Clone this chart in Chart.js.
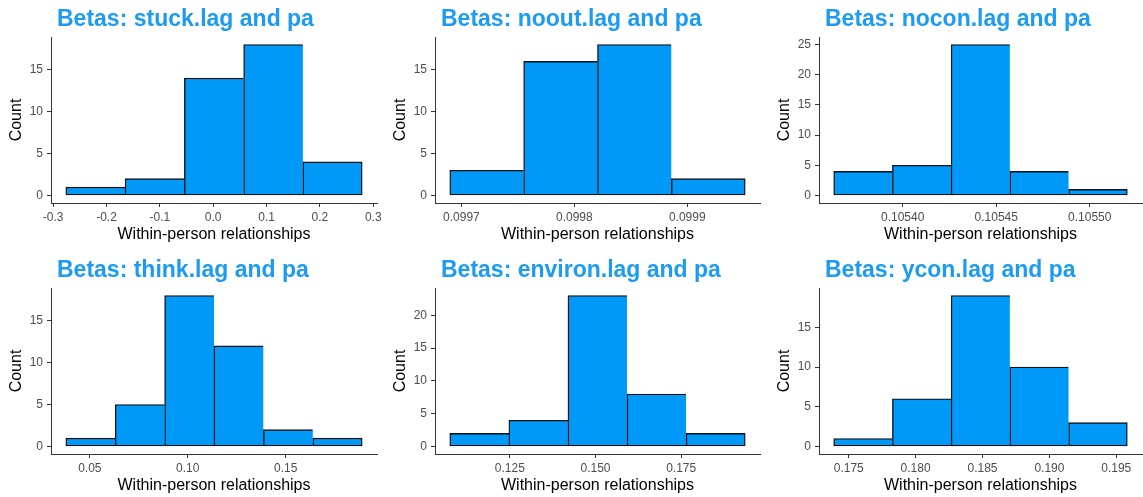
<!DOCTYPE html>
<html>
<head>
<meta charset="utf-8">
<script src="https://cdn.jsdelivr.net/npm/chart.js@4.4.1/dist/chart.umd.min.js"></script>
<style>
html, body { margin: 0; padding: 0; background: #fff; }
.panel { position: absolute; width: 381px; height: 248px; }
</style>
</head>
<body>
<div class="panel" style="left:0px;top:0px"><canvas id="c0" width="381" height="248"></canvas></div>
<div class="panel" style="left:381px;top:0px"><canvas id="c1" width="381" height="248"></canvas></div>
<div class="panel" style="left:762px;top:0px"><canvas id="c2" width="381" height="248"></canvas></div>
<div class="panel" style="left:0px;top:251px"><canvas id="c3" width="381" height="248"></canvas></div>
<div class="panel" style="left:381px;top:251px"><canvas id="c4" width="381" height="248"></canvas></div>
<div class="panel" style="left:762px;top:251px"><canvas id="c5" width="381" height="248"></canvas></div>
<script>
// histogram bin centres, counts and x tick values
var stuckBins = [-0.2207, -0.1096, 0.0015, 0.1126, 0.2237];
var stuckCounts = [1, 2, 14, 18, 4];
var stuckTicks = [-0.3, -0.2, -0.1, 0.0, 0.1, 0.2, 0.3];

var nooutBins = [0.0997224, 0.0997878, 0.0998532, 0.0999186];
var nooutCounts = [3, 16, 18, 2];
var nooutTicks = [0.0997, 0.0998, 0.0999];

var noconBins = [0.1053788, 0.1054102, 0.1054416, 0.1054730, 0.1055044];
var noconCounts = [4, 5, 25, 4, 1];
var noconTicks = [0.10540, 0.10545, 0.10550];

var thinkBins = [0.05035, 0.07556, 0.10077, 0.12598, 0.15119, 0.17640];
var thinkCounts = [1, 5, 18, 12, 2, 1];
var thinkTicks = [0.05, 0.10, 0.15];

var environBins = [0.11608, 0.13333, 0.15058, 0.16783, 0.18508];
var environCounts = [2, 4, 23, 8, 2];
var environTicks = [0.125, 0.150, 0.175];

var yconBins = [0.17607, 0.18046, 0.18485, 0.18924, 0.19363];
var yconCounts = [1, 6, 19, 10, 3];
var yconTicks = [0.175, 0.180, 0.185, 0.190, 0.195];

var countTicks15 = [0, 5, 10, 15];
var countTicks20 = [0, 5, 10, 15, 20];
var countTicks25 = [0, 5, 10, 15, 20, 25];

var panels = [
  { title: 'Betas: stuck.lag and pa', bins: stuckBins, counts: stuckCounts, xTicks: stuckTicks, yTicks: countTicks15, dec: 1 },
  { title: 'Betas: noout.lag and pa', bins: nooutBins, counts: nooutCounts, xTicks: nooutTicks, yTicks: countTicks15, dec: 4 },
  { title: 'Betas: nocon.lag and pa', bins: noconBins, counts: noconCounts, xTicks: noconTicks, yTicks: countTicks25, dec: 5 },
  { title: 'Betas: think.lag and pa', bins: thinkBins, counts: thinkCounts, xTicks: thinkTicks, yTicks: countTicks15, dec: 2 },
  { title: 'Betas: environ.lag and pa', bins: environBins, counts: environCounts, xTicks: environTicks, yTicks: countTicks20, dec: 3 },
  { title: 'Betas: ycon.lag and pa', bins: yconBins, counts: yconCounts, xTicks: yconTicks, yTicks: countTicks15, dec: 3 }
];

// layout bits
var yAxisWidth = [51, 54, 57, 51, 54, 57];
var rightPad = [4, 2, 1, 4, 2, 1];

Chart.defaults.font.family = '"Liberation Sans", Arial, Helvetica, sans-serif';
Chart.defaults.animation = false;

var barFill = '#0099F8';
var titleBlue = '#1B9BF1';
var axisDark = '#333333';
var tickGrey = '#4D4D4D';

// move the title so it starts just right of the y axis line
var titleShift = {
  id: 'titleShift',
  afterLayout: function(chart) {
    if (chart.titleBlock) {
      chart.titleBlock.left = chart.chartArea.left + 6;
    }
  }
};

panels.forEach(function(p, i) {
  var w = p.bins[1] - p.bins[0];
  var lo = p.bins[0] - w / 2;
  var hi = p.bins[p.bins.length - 1] + w / 2;
  var pad = (hi - lo) * 0.05;
  var ymax = Math.max.apply(null, p.counts) * 1.05;
  var last = p.counts.length - 1;

  new Chart(document.getElementById('c' + i), {
    type: 'bar',
    data: {
      datasets: [{
        data: p.bins.map(function(x, k) { return { x: x, y: p.counts[k] }; }),
        backgroundColor: barFill,
        borderColor: '#111',
        borderWidth: function(ctx) {
          return { top: 1.4, bottom: 1.4, left: 1.4, right: ctx.dataIndex === last ? 1.4 : 0 };
        },
        borderSkipped: false,
        barThickness: 'flex',
        barPercentage: 1,
        categoryPercentage: 1
      }]
    },
    options: {
      responsive: false,
      layout: { padding: { left: 0, right: rightPad[i], top: 0, bottom: 0 } },
      plugins: {
        legend: { display: false },
        tooltip: { enabled: false },
        title: {
          display: true,
          text: p.title,
          align: 'start',
          color: titleBlue,
          font: { size: 23, weight: 'bold', lineHeight: 1.2 },
          padding: { top: 5.5, bottom: 3.9 }
        }
      },
      scales: {
        x: {
          type: 'linear',
          min: lo - pad,
          max: hi + pad,
          offset: false,
          afterBuildTicks: function(s) { s.ticks = p.xTicks.map(function(v) { return { value: v }; }); },
          afterFit: function(s) { s.height = 45; s.paddingLeft = 0; s.paddingRight = 0; },
          ticks: {
            autoSkip: false, maxRotation: 0, color: tickGrey, padding: 3,
            font: { size: 12 },
            callback: function(v) { return Number(v).toFixed(p.dec); }
          },
          grid: { display: true, offset: false, drawOnChartArea: false, drawTicks: true, tickLength: 4, color: axisDark, lineWidth: 1 },
          border: { display: true, color: axisDark, width: 1 },
          title: {
            display: true, text: 'Within-person relationships', color: '#000',
            font: { size: 16, lineHeight: 1.2 }, padding: { top: 0, bottom: 3.8 }
          }
        },
        y: {
          type: 'linear',
          min: -ymax / 21,
          max: ymax,
          afterBuildTicks: function(s) { s.ticks = p.yTicks.map(function(v) { return { value: v }; }); },
          afterFit: function(s) { s.width = yAxisWidth[i]; s.paddingTop = 0; s.paddingBottom = 0; },
          ticks: { color: tickGrey, padding: 4, font: { size: 12 } },
          grid: { display: true, drawOnChartArea: false, drawTicks: true, tickLength: 4, color: axisDark, lineWidth: 1 },
          border: { display: true, color: axisDark, width: 1 },
          title: {
            display: true, text: 'Count', color: '#000',
            font: { size: 16, lineHeight: 1.2 }, padding: { top: yAxisWidth[i] - 44.5, bottom: 0 }
          }
        }
      }
    },
    plugins: [titleShift]
  });
});
</script>
</body>
</html>
